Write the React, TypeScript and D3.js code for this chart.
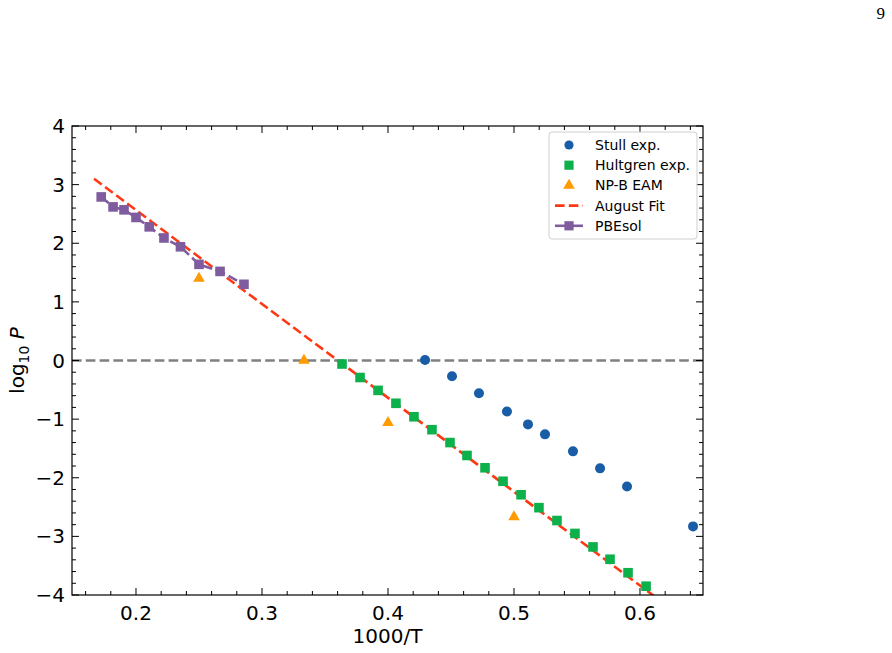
import { useEffect, useRef } from "react";
import * as d3 from "d3";

// Stull experimental
const STULL_X = [0.4294, 0.4508, 0.4722, 0.4944, 0.5111, 0.5246, 0.5468, 0.5683, 0.5897, 0.6421];
const STULL_Y = [0.01, -0.27, -0.56, -0.87, -1.09, -1.26, -1.55, -1.84, -2.15, -2.83];

// Hultgren experimental
const HULT_X = [0.3635, 0.3778, 0.3921, 0.4063, 0.4206, 0.4349, 0.4492, 0.4627, 0.4770, 0.4913,
  0.5056, 0.5198, 0.5341, 0.5484, 0.5627, 0.5762, 0.5905, 0.6048];
const HULT_Y = [-0.06, -0.29, -0.51, -0.73, -0.96, -1.18, -1.40, -1.62, -1.83, -2.06,
  -2.29, -2.51, -2.73, -2.95, -3.18, -3.39, -3.62, -3.85];

// NP-B EAM
const EAM_X = [0.25, 0.3333, 0.4, 0.5];
const EAM_Y = [1.40, 0.0, -1.06, -2.67];

// August fit (straight line endpoints)
const FIT_X = [0.1667, 0.625];
const FIT_Y = [3.10, -4.24];

// PBEsol
const PBE_X = [0.1724, 0.1818, 0.1905, 0.2, 0.2105, 0.2222, 0.2353, 0.25, 0.2667, 0.2857];
const PBE_Y = [2.79, 2.62, 2.57, 2.44, 2.28, 2.09, 1.94, 1.64, 1.52, 1.30];

const X_TICKS = [0.2, 0.3, 0.4, 0.5, 0.6];
const Y_TICKS = [-4, -3, -2, -1, 0, 1, 2, 3, 4];

const LEGEND = ["Stull exp.", "Hultgren exp.", "NP-B EAM", "August Fit", "PBEsol"];

const C_BLUE = "#185da6";
const C_GREEN = "#0db14b";
const C_ORANGE = "#ff9a00";
const C_RED = "#ff3814";
const C_PURPLE = "#7f5c9e";
const C_GRAY = "#808080";

const DASH = "9.6,4.2";

export default function App() {
  const ref = useRef<SVGSVGElement>(null);

  useEffect(() => {
    const svg = d3.select(ref.current);
    svg.selectAll("*").remove();
    const W = 892, H = 653;
    const L = 72, R = 703, T = 126, B = 595;
    const font = "DejaVu Sans, sans-serif";

    const x = d3.scaleLinear().domain([0.14921, 0.65]).range([L, R]);
    const y = d3.scaleLinear().domain([-4, 4]).range([B, T]);

    svg.attr("width", W).attr("height", H);
    svg.append("rect").attr("width", W).attr("height", H).attr("fill", "#fff");

    // page number
    svg.append("text").attr("x", 885).attr("y", 19).attr("text-anchor", "end")
      .attr("font-family", "Liberation Serif, DejaVu Serif, serif").attr("font-size", 17).text("9");

    svg.append("defs").append("clipPath").attr("id", "plotclip")
      .append("rect").attr("x", L).attr("y", T).attr("width", R - L).attr("height", B - T);

    const plot = svg.append("g").attr("clip-path", "url(#plotclip)");

    // zero line
    plot.append("line").attr("x1", L).attr("x2", R).attr("y1", y(0)).attr("y2", y(0))
      .attr("stroke", C_GRAY).attr("stroke-width", 2.6).attr("stroke-dasharray", DASH);

    // August fit
    const line = d3.line<number>().x((_, i) => x(FIT_X[i])).y(d => y(d));
    plot.append("path").attr("d", line(FIT_Y)).attr("fill", "none")
      .attr("stroke", C_RED).attr("stroke-width", 2.6).attr("stroke-dasharray", DASH);

    // PBEsol
    const pline = d3.line<number>().x((_, i) => x(PBE_X[i])).y(d => y(d));
    plot.append("path").attr("d", pline(PBE_Y)).attr("fill", "none")
      .attr("stroke", C_PURPLE).attr("stroke-width", 2.6).attr("stroke-dasharray", DASH);
    plot.selectAll(".pbe").data(PBE_Y).enter().append("rect")
      .attr("x", (_, i) => x(PBE_X[i]) - 4.8).attr("y", d => y(d) - 4.8)
      .attr("width", 9.6).attr("height", 9.6).attr("fill", C_PURPLE);

    // Hultgren
    plot.selectAll(".hult").data(HULT_Y).enter().append("rect")
      .attr("x", (_, i) => x(HULT_X[i]) - 4.8).attr("y", d => y(d) - 4.8)
      .attr("width", 9.6).attr("height", 9.6).attr("fill", C_GREEN);

    // Stull
    plot.selectAll(".stull").data(STULL_Y).enter().append("circle")
      .attr("cx", (_, i) => x(STULL_X[i])).attr("cy", d => y(d)).attr("r", 5).attr("fill", C_BLUE);

    // EAM triangles
    const tri = d3.symbol().type(d3.symbolTriangle).size(58);
    plot.selectAll(".eam").data(EAM_Y).enter().append("path")
      .attr("d", tri()).attr("transform", (d, i) => `translate(${x(EAM_X[i])},${y(d)})`)
      .attr("fill", C_ORANGE);

    // frame
    svg.append("rect").attr("x", L).attr("y", T).attr("width", R - L).attr("height", B - T)
      .attr("fill", "none").attr("stroke", "#000").attr("stroke-width", 1.2);

    const ticks = svg.append("g").attr("stroke", "#000").attr("stroke-width", 1);
    const xMinor = d3.range(0.16, 0.65, 0.02);
    xMinor.forEach(v => {
      const isMaj = X_TICKS.some(t => Math.abs(t - v) < 1e-6);
      const len = isMaj ? 7 : 4;
      ticks.append("line").attr("x1", x(v)).attr("x2", x(v)).attr("y1", B).attr("y2", B - len);
      ticks.append("line").attr("x1", x(v)).attr("x2", x(v)).attr("y1", T).attr("y2", T + len);
    });
    const yMinor = d3.range(-4, 4.001, 0.2);
    yMinor.forEach(v => {
      const isMaj = Math.abs(v - Math.round(v)) < 1e-6;
      const len = isMaj ? 7 : 4;
      ticks.append("line").attr("x1", L).attr("x2", L + len).attr("y1", y(v)).attr("y2", y(v));
      ticks.append("line").attr("x1", R).attr("x2", R - len).attr("y1", y(v)).attr("y2", y(v));
    });

    // tick labels
    X_TICKS.forEach(v => {
      svg.append("text").attr("x", x(v)).attr("y", B + 25).attr("text-anchor", "middle")
        .attr("font-family", font).attr("font-size", 20).text(d3.format(".1f")(v));
    });
    Y_TICKS.forEach(v => {
      svg.append("text").attr("x", L - 7).attr("y", y(v) + 7).attr("text-anchor", "end")
        .attr("font-family", font).attr("font-size", 20).text(v < 0 ? `\u2212${-v}` : `${v}`);
    });

    // axis labels
    svg.append("text").attr("x", (L + R) / 2).attr("y", 643).attr("text-anchor", "middle")
      .attr("font-family", font).attr("font-size", 20).text("1000/T");
    const yl = svg.append("text").attr("transform", `translate(24,${(T + B) / 2}) rotate(-90)`)
      .attr("text-anchor", "middle").attr("font-family", font).attr("font-size", 20);
    yl.append("tspan").text("log");
    yl.append("tspan").attr("font-size", 14).attr("dy", 5).text("10");
    yl.append("tspan").attr("dy", -5).text(" ");
    yl.append("tspan").attr("font-style", "italic").text("P");

    // legend
    const lg = svg.append("g");
    lg.append("rect").attr("x", 549).attr("y", 132).attr("width", 148).attr("height", 107)
      .attr("rx", 3).attr("fill", "#fff").attr("fill-opacity", 0.8)
      .attr("stroke", "#d0d0d0").attr("stroke-width", 1);
    const rowY = (i: number) => 145 + i * 20.2;
    const mx = 569;
    lg.append("circle").attr("cx", mx).attr("cy", rowY(0)).attr("r", 4.6).attr("fill", C_BLUE);
    lg.append("rect").attr("x", mx - 4.6).attr("y", rowY(1) - 4.6).attr("width", 9.2).attr("height", 9.2).attr("fill", C_GREEN);
    lg.append("path").attr("d", tri()).attr("transform", `translate(${mx},${rowY(2)})`).attr("fill", C_ORANGE);
    lg.append("line").attr("x1", 555).attr("x2", 583).attr("y1", rowY(3)).attr("y2", rowY(3))
      .attr("stroke", C_RED).attr("stroke-width", 2.6).attr("stroke-dasharray", DASH);
    lg.append("line").attr("x1", 555).attr("x2", 583).attr("y1", rowY(4)).attr("y2", rowY(4))
      .attr("stroke", C_PURPLE).attr("stroke-width", 2.6);
    lg.append("rect").attr("x", mx - 4.6).attr("y", rowY(4) - 4.6).attr("width", 9.2).attr("height", 9.2).attr("fill", C_PURPLE);
    LEGEND.forEach((s, i) => {
      lg.append("text").attr("x", 595).attr("y", rowY(i) + 5).attr("font-family", font)
        .attr("font-size", 14).text(s);
    });
  }, []);

  return (
    <div style={{ position: "absolute", left: 0, top: 0 }}>
      <svg ref={ref} />
    </div>
  );
}
